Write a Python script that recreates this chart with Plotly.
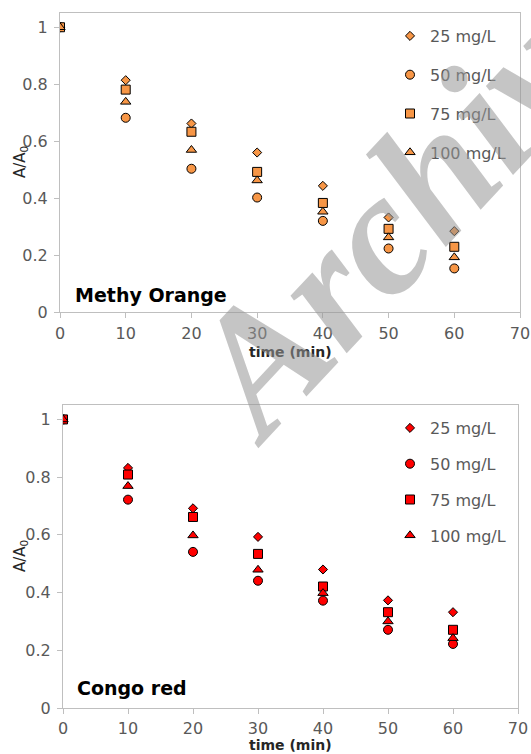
import plotly.graph_objects as go

time_min = [0, 10, 20, 30, 40, 50, 60]
series_names = ["25 mg/L", "50 mg/L", "75 mg/L", "100 mg/L"]

mo_25 = [1.0, 0.814, 0.662, 0.560, 0.443, 0.332, 0.284]
mo_50 = [1.0, 0.682, 0.503, 0.402, 0.320, 0.223, 0.153]
mo_75 = [1.0, 0.781, 0.633, 0.492, 0.383, 0.292, 0.229]
mo_100 = [1.0, 0.738, 0.569, 0.462, 0.352, 0.262, 0.192]

cr_25 = [1.0, 0.832, 0.692, 0.593, 0.480, 0.373, 0.332]
cr_50 = [1.0, 0.722, 0.541, 0.441, 0.372, 0.271, 0.222]
cr_75 = [1.0, 0.809, 0.662, 0.534, 0.421, 0.332, 0.271]
cr_100 = [1.0, 0.769, 0.598, 0.479, 0.398, 0.300, 0.242]

x_ticks = [0, 10, 20, 30, 40, 50, 60, 70]
y_ticks = [0, 0.2, 0.4, 0.6, 0.8, 1.0]
y_tick_labels = ["0", "0.2", "0.4", "0.6", "0.8", "1"]

W, H = 531, 754
FONT = "DejaVu Sans"
symbols = ["diamond", "circle", "square", "triangle-up"]
sizes = [7, 9, 9, 9]

fig = go.Figure()

mo_data = [mo_25, mo_50, mo_75, mo_100]
cr_data = [cr_25, cr_50, cr_75, cr_100]

for i, (name, ys) in enumerate(zip(series_names, mo_data)):
    fig.add_trace(go.Scatter(
        x=time_min, y=ys, mode="markers", name=name,
        xaxis="x", yaxis="y", legend="legend", legendgroup="mo%d" % i,
        marker=dict(symbol=symbols[i], size=sizes[i], color="#F79646",
                    line=dict(color="#000000", width=1)),
    ))
for i, (name, ys) in enumerate(zip(series_names, cr_data)):
    fig.add_trace(go.Scatter(
        x=time_min, y=ys, mode="markers", name=name,
        xaxis="x2", yaxis="y2", legend="legend2", legendgroup="cr%d" % i,
        marker=dict(symbol=symbols[i], size=sizes[i], color="#FF0000",
                    line=dict(color="#000000", width=1)),
    ))

def px_x(p):
    return p / W

def px_y(p):
    return 1 - p / H

axis_common = dict(
    showline=True, linecolor="#BFBFBF", linewidth=1, mirror=True,
    showgrid=False, zeroline=False, ticks="outside", ticklen=5,
    tickcolor="#BFBFBF", automargin=False,
    tickfont=dict(family=FONT, size=16, color="#595959"),
)

fig.update_layout(
    template="none",
    width=W, height=H,
    margin=dict(l=0, r=0, t=0, b=0, pad=0),
    paper_bgcolor="white", plot_bgcolor="white",
    showlegend=True,
    xaxis=dict(axis_common, domain=[px_x(60), px_x(520)], range=[0, 70],
               tickvals=x_ticks, anchor="y", ticklabelstandoff=2),
    yaxis=dict(axis_common, domain=[px_y(312), px_y(13)], range=[0, 1.05],
               tickvals=y_ticks, ticktext=y_tick_labels, anchor="x",
               ticklabelstandoff=3),
    xaxis2=dict(axis_common, domain=[px_x(63), px_x(518)], range=[0, 70],
                tickvals=x_ticks, anchor="y2", ticklabelstandoff=1),
    yaxis2=dict(axis_common, domain=[px_y(708), px_y(405)], range=[0, 1.05],
                tickvals=y_ticks, ticktext=y_tick_labels, anchor="x2",
                ticklabelstandoff=3),
    legend=dict(x=px_x(390), y=px_y(19), xanchor="left", yanchor="top",
                bgcolor="rgba(0,0,0,0)", tracegroupgap=15,
                font=dict(family=FONT, size=16, color="#595959")),
    legend2=dict(x=px_x(390), y=px_y(411), xanchor="left", yanchor="top",
                 bgcolor="rgba(0,0,0,0)", tracegroupgap=12,
                 font=dict(family=FONT, size=16, color="#595959")),
)

annotations = [
    dict(text="<b>Methy Orange</b>", x=px_x(73), y=px_y(295), xanchor="left",
         yanchor="middle", font=dict(family=FONT, size=19, color="#000000")),
    dict(text="<b>Congo red</b>", x=px_x(75), y=px_y(688), xanchor="left",
         yanchor="middle", font=dict(family=FONT, size=19, color="#000000")),
    dict(text="<b>time (min)</b>", x=px_x(290), y=px_y(352), xanchor="center",
         yanchor="middle", font=dict(family=FONT, size=14, color="#262626")),
    dict(text="<b>time (min)</b>", x=px_x(290), y=px_y(745), xanchor="center",
         yanchor="middle", font=dict(family=FONT, size=14, color="#262626")),
    dict(text="A/A<sub>0</sub>", x=px_x(20), y=px_y(162), xanchor="center",
         yanchor="middle", textangle=-90,
         font=dict(family=FONT, size=15, color="#262626")),
    dict(text="A/A<sub>0</sub>", x=px_x(20), y=px_y(556), xanchor="center",
         yanchor="middle", textangle=-90,
         font=dict(family=FONT, size=15, color="#262626")),
    dict(text="<b><i>Archive of SID</i></b>", x=px_x(589), y=px_y(7),
         xanchor="center", yanchor="middle", textangle=-47,
         font=dict(family="Liberation Serif", size=175,
                   color="rgba(150,150,150,0.55)")),
]
for a in annotations:
    a.update(xref="paper", yref="paper", showarrow=False)
fig.update_layout(annotations=annotations)

fig.write_html(
    "out.html",
    config={"displayModeBar": False},
    post_script="document.body.style.margin='0px';"
                "document.body.style.overflow='hidden';",
)
